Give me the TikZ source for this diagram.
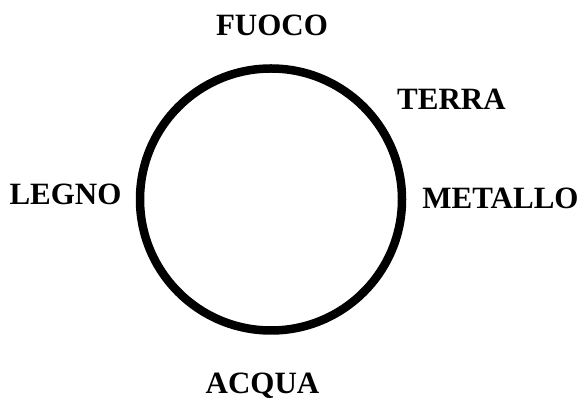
\documentclass[tikz,border=0pt]{standalone}
\usepackage{fontspec}
\setmainfont{Liberation Serif}
\begin{document}
\begin{tikzpicture}[x=1pt,y=1pt,
  lbl/.style={font=\fontsize{31}{31}\selectfont\bfseries, anchor=base, inner sep=0pt}]
\useasboundingbox (0,0) rectangle (584,401);
\node[draw, circle, line width=8.5pt, minimum size=262pt, inner sep=0pt] (c) at (271,201.5) {};
\node[lbl] (fuoco) at (272,365) {FUOCO};
\node[lbl] (terra) at (451.5,291) {TERRA};
\node[lbl] (metallo) at (500.5,192) {METALLO};
\node[lbl] (legno) at (65.5,196) {LEGNO};
\node[lbl] (acqua) at (262.5,7.5) {ACQUA};
\end{tikzpicture}
\end{document}
